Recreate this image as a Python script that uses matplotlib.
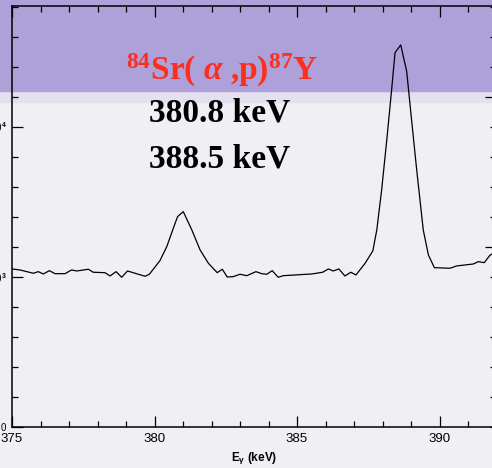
import matplotlib.pyplot as plt
from matplotlib.patches import Rectangle
from matplotlib.ticker import MultipleLocator, FixedLocator

plt.rcParams['mathtext.fontset'] = 'custom'
plt.rcParams['mathtext.rm'] = 'Liberation Serif:bold'
plt.rcParams['mathtext.it'] = 'Liberation Serif:italic:bold'
plt.rcParams['mathtext.bf'] = 'Liberation Serif:bold'
plt.rcParams['mathtext.sf'] = 'Liberation Sans:bold'
plt.rcParams['font.family'] = ['Liberation Sans', 'DejaVu Sans']

# gamma spectrum
energy = [375.00, 375.28, 375.75, 375.92, 376.10, 376.31, 376.51, 376.86, 377.09, 377.27,
          377.68, 377.85, 378.26, 378.44, 378.65, 378.85, 379.05, 379.32, 379.67, 379.82,
          380.19, 380.43, 380.66, 380.81, 381.01, 381.31, 381.60, 381.89, 382.20, 382.38,
          382.55, 382.76, 383.00, 383.24, 383.56, 383.76, 383.94, 384.13, 384.34, 384.52,
          385.52, 385.90, 386.10, 386.27, 386.47, 386.68, 386.89, 387.07, 387.39, 387.66,
          387.80, 387.97, 388.15, 388.32, 388.44, 388.64, 388.85, 389.02, 389.20, 389.43,
          389.61, 389.82, 390.37, 390.60, 391.19, 391.36, 391.57, 391.77, 392.00]
counts = [5267, 5233, 5123, 5177, 5100, 5210, 5110, 5110, 5233, 5200,
          5257, 5157, 5143, 5033, 5177, 4990, 5200, 5123, 5023, 5090,
          5543, 6010, 6623, 7010, 7177, 6567, 5900, 5457, 5143, 5257,
          5000, 5010, 5090, 5043, 5177, 5110, 5090, 5210, 4990, 5043,
          5100, 5157, 5267, 5200, 5267, 5033, 5157, 5067, 5457, 5867,
          6567, 7900, 9567, 11233, 12477, 12733, 11843, 10233, 8567, 6567,
          5733, 5310, 5290, 5367, 5433, 5510, 5477, 5723, 5850]

x_major = [375, 380, 385, 390]
y_major = [0, 5000, 10000]
y_labels = ['0', r'5 10$^{\mathsf{3}}$', r'1 10$^{\mathsf{4}}$']
right_major = [6000, 11000]

fig = plt.figure(figsize=(4.92, 4.68), dpi=100, facecolor='#f0eff4')

# purple band at the top of the slide, kept behind the axes
fig.patches.append(Rectangle((0, 1 - 102/468), 1, 12/468, transform=fig.transFigure,
                             color='#e4e0f0', zorder=-10))
fig.patches.append(Rectangle((0, 1 - 91/468), 1, 91/468, transform=fig.transFigure,
                             color='#aea0d9', zorder=-10))

ax = fig.add_axes([12/492, 41/468, 484.5/492, 421/468])
ax.set_facecolor('none')
ax.plot(energy, counts, color='black', lw=0.9)

ax.set_xlim(375, 392)
ax.set_ylim(0, 14030)
ax.xaxis.set_major_locator(FixedLocator(x_major))
ax.xaxis.set_minor_locator(MultipleLocator(1))
ax.set_yticks(y_major)
ax.set_yticklabels(y_labels)
ax.yaxis.set_minor_locator(MultipleLocator(1000))

ax.tick_params(which='both', direction='in', top=True, right=False, width=0.9, colors='black')
ax.tick_params(which='major', length=8)
ax.tick_params(which='minor', length=4.5)
ax.tick_params(axis='x', labelsize=9.5, pad=4)
ax.tick_params(axis='y', labelsize=7, pad=4)
for s in ax.spines.values():
    s.set_linewidth(1.1)

# right side ticks sit on their own spacing
ax2 = ax.twinx()
ax2.set_ylim(0, 14030)
ax2.yaxis.set_major_locator(FixedLocator(right_major))
ax2.yaxis.set_minor_locator(MultipleLocator(1000))
ax2.tick_params(which='both', direction='in', width=0.9, labelright=False)
ax2.tick_params(which='major', length=8)
ax2.tick_params(which='minor', length=4.5)
for s in ax2.spines.values():
    s.set_visible(False)

ax.set_xlabel(r'E$_{\mathsf{\gamma}}$ (keV)', fontsize=8.5, fontweight='bold', labelpad=4)

fig.text(126/492, 1 - 80/468, r'$^{84}$Sr( $\alpha$ ,p)$^{87}$Y', fontsize=24,
         color='#ff2e1c', family='Liberation Serif', fontweight='bold')
fig.text(149/492, 1 - 122/468, '380.8 keV', fontsize=24, family='Liberation Serif',
         fontweight='bold', color='black')
fig.text(149/492, 1 - 167/468, '388.5 keV', fontsize=24, family='Liberation Serif',
         fontweight='bold', color='black')

fig.savefig('out.png', dpi=100, facecolor=fig.get_facecolor())
